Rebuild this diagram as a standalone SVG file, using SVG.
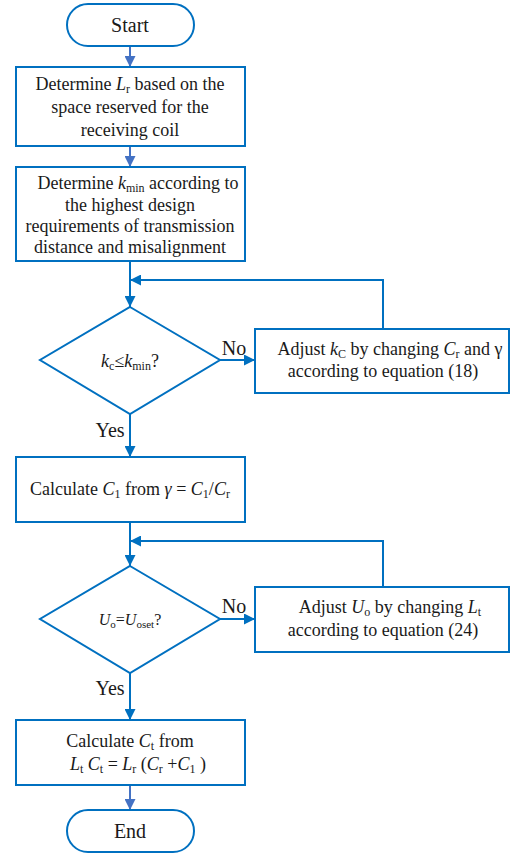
<svg xmlns="http://www.w3.org/2000/svg" width="510" height="853" viewBox="0 0 510 853">
<defs>
<marker id="a" viewBox="0 0 10 10" refX="10" refY="5" markerWidth="5.5" markerHeight="5.5" orient="auto" markerUnits="strokeWidth"><path d="M0,0L10,5L0,10z" fill="#0070C0"/></marker>
<marker id="b" viewBox="0 0 10 10" refX="10" refY="5" markerWidth="5.5" markerHeight="5.5" orient="auto" markerUnits="strokeWidth"><path d="M0,0L10,5L0,10z" fill="#4472C4"/></marker>
</defs>
<g id="connectors" fill="none" stroke="#0070C0" stroke-width="2">
<path stroke="#4472C4" d="M130,46V67" marker-end="url(#b)"/>
<path stroke="#4472C4" d="M130,146V167" marker-end="url(#b)"/>
<path d="M130,261V307" marker-end="url(#a)"/>
<path d="M383,329V280H130" marker-end="url(#a)"/>
<path d="M220,360H255" marker-end="url(#a)"/>
<path d="M130,414V457" marker-end="url(#a)"/>
<path d="M130,522V566" marker-end="url(#a)"/>
<path d="M383,587V541H130" marker-end="url(#a)"/>
<path d="M220,619H255" marker-end="url(#a)"/>
<path d="M130,673V720" marker-end="url(#a)"/>
<path stroke="#4472C4" d="M130,785V810" marker-end="url(#b)"/>
</g>
<g id="labels" font-family="Liberation Serif" font-size="20" fill="#1a1a1a" text-anchor="middle">
<text x="234" y="355">No</text>
<text x="110" y="437">Yes</text>
<text x="234" y="613">No</text>
<text x="110" y="695">Yes</text>
</g>
<g fill="#fff" stroke="#0070C0" stroke-width="2">
<g id="start"><rect x="67" y="4" width="127" height="42" rx="21"/></g>
<g id="box1"><rect x="16" y="67" width="229" height="79"/></g>
<g id="box2"><rect x="16" y="167" width="229" height="94"/></g>
<g id="dec1"><path d="M130,307L220,360L130,414L40,360z"/></g>
<g id="box3"><rect x="255" y="329" width="254" height="64"/></g>
<g id="box4"><rect x="16" y="457" width="229" height="65"/></g>
<g id="dec2"><path d="M130,566L220,619L130,673L40,619z"/></g>
<g id="box5"><rect x="255" y="587" width="254" height="65"/></g>
<g id="box6"><rect x="16" y="720" width="229" height="65"/></g>
<g id="end"><rect x="67" y="810" width="127" height="42" rx="21"/></g>
</g>
<g id="texts" font-family="Liberation Serif" font-size="18" fill="#1a1a1a" text-anchor="middle">
<text x="130" y="32" font-size="20">Start</text>
<text x="130" y="90">Determine <tspan font-style="italic">L</tspan><tspan font-size="12" dy="3">r</tspan><tspan dy="-3"> based on the</tspan></text>
<text x="130" y="113">space reserved for the</text>
<text x="130" y="136">receiving coil</text>
<text x="138" y="189">Determine <tspan font-style="italic">k</tspan><tspan font-size="12" dy="3">min</tspan><tspan dy="-3"> according to</tspan></text>
<text x="130" y="211">the highest design</text>
<text x="130" y="232">requirements of transmission</text>
<text x="130" y="253">distance and misalignment</text>
<text x="130" y="367"><tspan font-style="italic">k</tspan><tspan font-size="12" dy="3">c</tspan><tspan dy="-3">≤</tspan><tspan font-style="italic">k</tspan><tspan font-size="12" dy="3">min</tspan><tspan dy="-3">?</tspan></text>
<text x="390" y="355">Adjust <tspan font-style="italic">k</tspan><tspan font-size="12" dy="3">C</tspan><tspan dy="-3"> by changing </tspan><tspan font-style="italic">C</tspan><tspan font-size="12" dy="3">r</tspan><tspan dy="-3"> and γ</tspan></text>
<text x="383" y="377">according to equation (18)</text>
<text x="130" y="495">Calculate <tspan font-style="italic">C</tspan><tspan font-size="12" dy="3">1</tspan><tspan dy="-3"> from </tspan><tspan font-style="italic">γ</tspan> = <tspan font-style="italic">C</tspan><tspan font-size="12" dy="3">1</tspan><tspan dy="-3">/</tspan><tspan font-style="italic">C</tspan><tspan font-size="12" dy="3">r</tspan></text>
<text x="130" y="625" font-size="16"><tspan font-style="italic">U</tspan><tspan font-size="11" dy="3">o</tspan><tspan dy="-3">=</tspan><tspan font-style="italic">U</tspan><tspan font-size="11" dy="3">oset</tspan><tspan dy="-3">?</tspan></text>
<text x="390" y="613">Adjust <tspan font-style="italic">U</tspan><tspan font-size="12" dy="3">o</tspan><tspan dy="-3"> by changing </tspan><tspan font-style="italic">L</tspan><tspan font-size="12" dy="3">t</tspan></text>
<text x="383" y="636">according to equation (24)</text>
<text x="130" y="747">Calculate <tspan font-style="italic">C</tspan><tspan font-size="12" dy="3">t</tspan><tspan dy="-3"> from</tspan></text>
<text x="138" y="770"><tspan font-style="italic">L</tspan><tspan font-size="12" dy="3">t</tspan><tspan dy="-3"> </tspan><tspan font-style="italic">C</tspan><tspan font-size="12" dy="3">t</tspan><tspan dy="-3"> = </tspan><tspan font-style="italic">L</tspan><tspan font-size="12" dy="3">r</tspan><tspan dy="-3"> (</tspan><tspan font-style="italic">C</tspan><tspan font-size="12" dy="3">r</tspan><tspan dy="-3"> +</tspan><tspan font-style="italic">C</tspan><tspan font-size="12" dy="3">1</tspan><tspan dy="-3"> )</tspan></text>
<text x="130" y="838" font-size="20">End</text>
</g>
</svg>
